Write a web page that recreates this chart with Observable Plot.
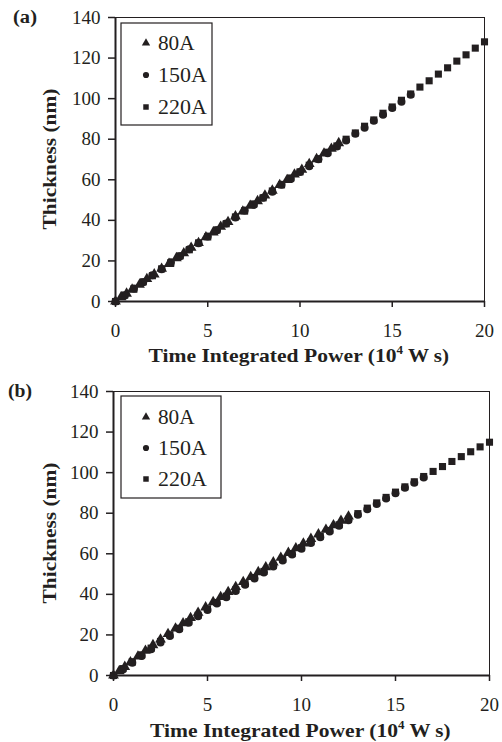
<!DOCTYPE html>
<html><head><meta charset="utf-8">
<script src="https://cdn.jsdelivr.net/npm/d3@7"></script>
<script src="https://cdn.jsdelivr.net/npm/@observablehq/plot@0.6"></script>
<style>
body{margin:0;background:#fff;}
#wrap{position:relative;width:502px;height:742px;background:#fff;}
#wrap svg{position:absolute;left:0;}
</style></head><body><div id="wrap"></div>
<script>
const xTicks = [0, 5, 10, 15, 20];
const yTicks = [0, 20, 40, 60, 80, 100, 120, 140];
const seriesNames = ["80A", "150A", "220A"];
const seriesSymbols = ["triangle", "circle", "square"];
const panelLabels = ["(a)", "(b)"];
const xTitle = ["Time Integrated Power (10", "4", " W s)"];
const yTitle = "Thickness (nm)";

// Panel (a)
const a80x = [0,0.3,0.6,0.9,1.3,1.7,2.1,2.5,2.9,3.3,3.7,4.1,4.5,4.9,5.3,5.7,6.1,6.5,6.9,7.3,7.7,8.1,8.5,8.9,9.3,9.7,10.1,10.5,10.9,11.3,11.7,12.1];
const a80y = [0,2.1,3.9,5.9,8.3,11.1,13.4,16.2,18.6,21.4,23.8,26.5,28.9,31.7,34.1,36.9,39.2,42.0,44.4,47.2,49.5,52.3,54.7,57.5,59.9,62.6,65.0,67.8,70.2,73.0,75.3,78.1];
const a150x = [0,0.5,1,1.5,2,2.5,3,3.5,4,4.5,5,5.5,6,6.5,7,7.5,8,8.5,9,9.5,10,10.5,11,11.5,12,12.5,13,13.5,14,14.5,15,15.5,16];
const a150y = [0,3.0,6.4,9.5,12.9,15.9,19.4,22.3,25.7,28.7,32.1,35.1,38.5,41.4,44.8,47.7,51.1,54.1,57.5,60.4,63.8,66.7,70.1,73.1,76.4,79.4,82.7,85.7,89.1,92.0,95.4,98.5,101.9];
const a220x = [0,0.5,1,1.5,2,2.5,3,3.5,4,4.5,5,5.5,6,6.5,7,7.5,8,8.5,9,9.5,10,10.5,11,11.5,12,12.5,13,13.5,14,14.5,15,15.5,16,16.5,17,17.5,18,18.5,19,19.5,20];
const a220y = [0,3.2,6.3,9.7,12.7,16.1,19.1,22.5,25.5,28.9,31.9,35.3,38.3,41.7,44.7,48.1,51.1,54.5,57.5,60.9,63.9,67.2,70.3,73.6,76.7,80.0,83.1,86.4,89.5,92.8,95.9,99.2,102.3,105.7,108.8,112.1,115.2,118.5,121.6,124.9,128.0];

// Panel (b)
const b80x = [0,0.3,0.6,0.9,1.3,1.7,2.1,2.5,2.9,3.3,3.7,4.1,4.5,4.9,5.3,5.7,6.1,6.5,6.9,7.3,7.7,8.1,8.5,8.9,9.3,9.7,10.1,10.5,10.9,11.3,11.7,12.1,12.5];
const b80y = [0,2.1,4.3,6.5,9.4,12.2,15.0,17.8,20.5,23.2,25.8,28.4,31.0,33.6,36.2,38.7,41.2,43.7,46.1,48.6,51.0,53.4,55.8,58.1,60.5,62.8,65.1,67.4,69.6,71.9,74.1,76.3,78.4];
const b150x = [0,0.5,1,1.5,2,2.5,3,3.5,4,4.5,5,5.5,6,6.5,7,7.5,8,8.5,9,9.5,10,10.5,11,11.5,12,12.5,13,13.5,14,14.5,15,15.5,16,16.5];
const b150y = [0,3.0,6.3,9.6,13.0,16.3,19.5,22.8,26.0,29.2,32.3,35.5,38.6,41.7,44.7,47.8,50.8,53.7,56.7,59.6,62.5,65.3,68.2,71.0,73.8,76.5,79.3,82.0,84.6,87.3,89.9,92.5,95.0,97.6];
const b220x = [0,0.5,1,1.5,2,2.5,3,3.5,4,4.5,5,5.5,6,6.5,7,7.5,8,8.5,9,9.5,10,10.5,11,11.5,12,12.5,13,13.5,14,14.5,15,15.5,16,16.5,17,17.5,18,18.5,19,19.5,20];
const b220y = [0,3.4,6.8,10.2,13.5,16.8,20.1,23.3,26.5,29.7,32.9,36.0,39.1,42.2,45.3,48.3,51.3,54.3,57.2,60.1,63.0,65.9,68.7,71.5,74.3,77.0,79.8,82.5,85.1,87.8,90.4,93.0,95.5,98.1,100.6,103.0,105.5,107.9,110.3,112.7,115.0];

const INK = "#231f20";
const FONT = "'Liberation Serif', 'Times New Roman', serif";

function rows(xs, ys, name) { return xs.map((x, i) => ({x, y: ys[i], series: name})); }

function panel(cfg) {
  const data = [
    ...rows(cfg.s220[0], cfg.s220[1], "220A"),
    ...rows(cfg.s150[0], cfg.s150[1], "150A"),
    ...rows(cfg.s80[0], cfg.s80[1], "80A")
  ];
  const svg = Plot.plot({
    width: 502, height: cfg.height,
    marginLeft: cfg.ml, marginRight: cfg.mr, marginTop: cfg.mt, marginBottom: cfg.mb,
    style: {fontFamily: FONT, fontSize: "19px", color: INK, background: "transparent", overflow: "visible"},
    x: {domain: [0, 20], ticks: xTicks, label: null},
    y: {domain: [0, 140], ticks: yTicks, label: null},
    symbol: {domain: seriesNames, range: seriesSymbols},
    marks: [
      Plot.frame({stroke: INK, strokeWidth: 1}),
      Plot.axisX({ticks: xTicks, tickSize: 6, tickPadding: 16, label: null, stroke: INK, fill: INK, strokeWidth: 1.5}),
      Plot.axisY({ticks: yTicks, tickSize: 7, tickPadding: 8, label: null, stroke: INK, fill: INK, strokeWidth: 1.5}),
      Plot.ruleX([0], {stroke: INK, strokeWidth: 2}),
      Plot.ruleY([0], {stroke: INK, strokeWidth: 2}),
      Plot.dot(data, {x: "x", y: "y", symbol: "series", r: 4, fill: INK, stroke: "none"})
    ]
  });
  svg.style.top = cfg.top + "px";
  const s = d3.select(svg);
  // panel label
  s.append("text").attr("x", cfg.lab[0]).attr("y", cfg.lab[1]).attr("text-anchor", "start")
    .attr("font-family", FONT).attr("font-weight", "bold").attr("font-size", 18).attr("fill", INK)
    .attr("textLength", 24).attr("lengthAdjust", "spacingAndGlyphs")
    .text(cfg.label);
  // y title
  const cy = (cfg.mt + cfg.height - cfg.mb) / 2;
  s.append("text").attr("transform", `translate(${cfg.yt},${cy}) rotate(-90)`)
    .attr("text-anchor", "middle").attr("font-family", FONT).attr("font-weight", "bold")
    .attr("font-size", 19).attr("fill", INK)
    .attr("textLength", 141).attr("lengthAdjust", "spacingAndGlyphs").text(yTitle);
  // x title
  const cx = (cfg.ml + 502 - cfg.mr) / 2;
  const t = s.append("text").attr("x", cx - 151).attr("y", cfg.xt).attr("text-anchor", "start")
    .attr("font-family", FONT).attr("font-weight", "bold").attr("font-size", 19).attr("fill", INK);
  t.append("tspan").attr("textLength", 248).attr("lengthAdjust", "spacingAndGlyphs").text(xTitle[0]);
  t.append("tspan").attr("dy", -8).attr("font-size", 13).text(xTitle[1]);
  t.append("tspan").attr("dy", 8).attr("textLength", 46).attr("lengthAdjust", "spacingAndGlyphs").text(xTitle[2]);
  // legend
  const L = cfg.leg;
  s.append("rect").attr("x", L.x).attr("y", L.y).attr("width", L.w).attr("height", L.h)
    .attr("fill", "white").attr("stroke", INK).attr("stroke-width", 1.2);
  const symMap = {triangle: d3.symbolTriangle, circle: d3.symbolCircle, square: d3.symbolSquare};
  seriesNames.forEach((n, i) => {
    const yy = L.y + L.r0 + i * L.dr;
    s.append("path").attr("transform", `translate(${L.x + 25},${yy})`)
      .attr("d", d3.symbol(symMap[seriesSymbols[i]], 30)()).attr("fill", INK);
    s.append("text").attr("x", L.x + 37).attr("y", yy).attr("dy", "0.35em").attr("text-anchor", "start")
      .attr("font-family", FONT).attr("font-size", 20).attr("fill", INK)
      .attr("textLength", n.length * 12.2).attr("lengthAdjust", "spacingAndGlyphs").text(n);
  });
  document.getElementById("wrap").appendChild(svg);
}

panel({top: 0, height: 371, ml: 115, mr: 18, mt: 17, mb: 70, label: panelLabels[0], lab: [13, 23],
  yt: 56, xt: 362, leg: {x: 121, y: 23, w: 91, h: 102, r0: 20, dr: 32},
  s80: [a80x, a80y], s150: [a150x, a150y], s220: [a220x, a220y]});
panel({top: 371, height: 371, ml: 113, mr: 13, mt: 20, mb: 67, label: panelLabels[1], lab: [8, 26],
  yt: 56, xt: 366, leg: {x: 121, y: 25, w: 100, h: 102, r0: 21, dr: 31},
  s80: [b80x, b80y], s150: [b150x, b150y], s220: [b220x, b220y]});
</script></body></html>
